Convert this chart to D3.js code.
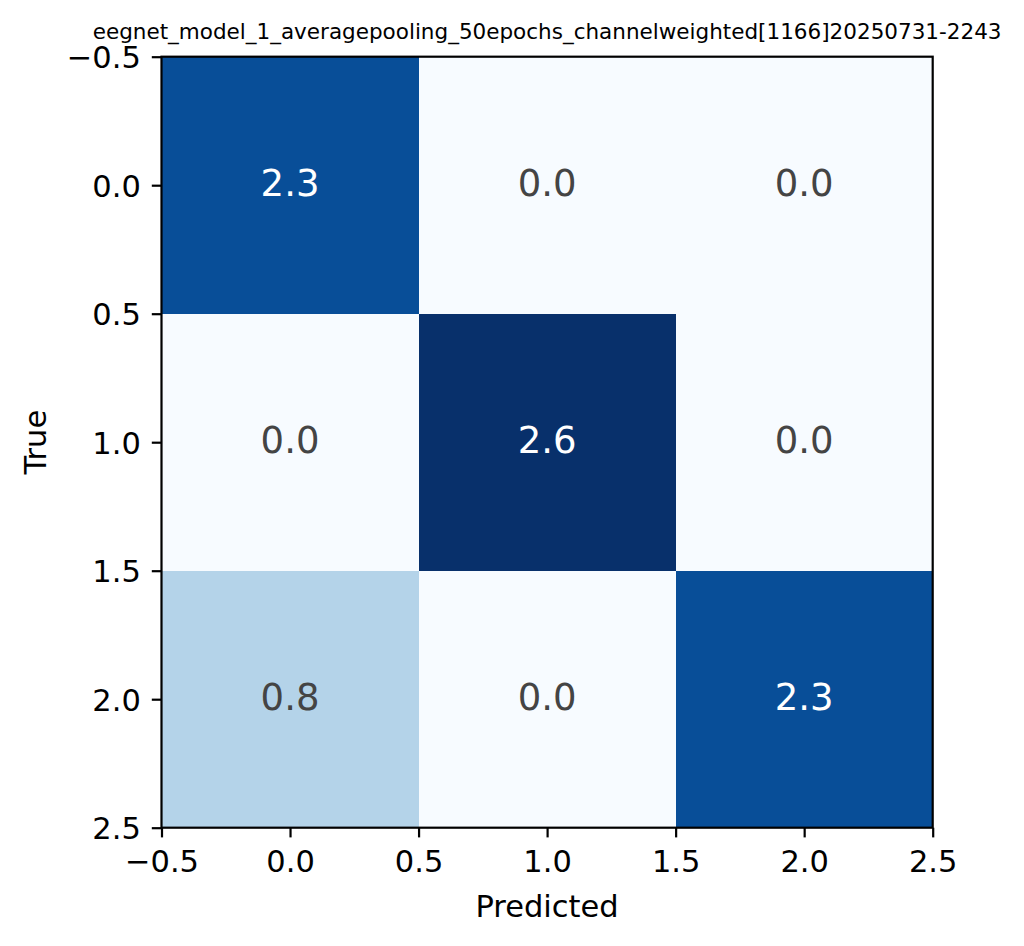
<!DOCTYPE html>
<html>
<head>
<meta charset="utf-8">
<script src="https://cdn.jsdelivr.net/npm/d3@7"></script>
<style>
  body { margin: 0; background: #fff; }
  text { font-family: "DejaVu Sans", sans-serif; }
</style>
</head>
<body>
<svg width="1024" height="946"></svg>
<script>
// Data
const title = "eegnet_model_1_averagepooling_50epochs_channelweighted[1166]20250731-2243";
const predicted = [0, 1, 2];
const trueRows = [0, 1, 2];
const values = [
  [2.3, 0.0, 0.0],
  [0.0, 2.6, 0.0],
  [0.8, 0.0, 2.3]
];
const tickValues = [-0.5, 0.0, 0.5, 1.0, 1.5, 2.0, 2.5];

// Matplotlib "Blues" colour stops
const bluesStops = ["#f7fbff", "#deebf7", "#c6dbef", "#9ecae1", "#6baed6", "#4292c6", "#2171b5", "#08519c", "#08306b"];

const svg = d3.select("svg");

// Axes box
const axLeft = 161.5, axRight = 932.7, axTop = 56.7, axBottom = 827.7;
const labelSize = 30.5;

const xScale = d3.scaleLinear().domain([-0.5, 2.5]).range([axLeft, axRight]);
const yScale = d3.scaleLinear().domain([-0.5, 2.5]).range([axTop, axBottom]);

const vmax = d3.max(values.flat());
const color = d3.scaleLinear()
  .domain(bluesStops.map((c, i) => vmax * i / (bluesStops.length - 1)))
  .range(bluesStops)
  .interpolate(d3.interpolateRgb);

// Flatten cells
const cells = [];
trueRows.forEach((r, i) => predicted.forEach((c, j) => cells.push({ row: r, col: c, v: values[i][j] })));

// Heatmap cells
svg.append("g").selectAll("rect")
  .data(cells)
  .enter()
  .append("rect")
  .attr("x", d => xScale(d.col - 0.5))
  .attr("y", d => yScale(d.row - 0.5))
  .attr("width", d => xScale(d.col + 0.5) - xScale(d.col - 0.5))
  .attr("height", d => yScale(d.row + 0.5) - yScale(d.row - 0.5))
  .attr("fill", d => color(d.v))
  .attr("shape-rendering", "crispEdges");

// Cell annotations
svg.append("g").selectAll("text")
  .data(cells)
  .enter()
  .append("text")
  .attr("x", d => xScale(d.col))
  .attr("y", d => yScale(d.row))
  .attr("dy", "0.28em")
  .attr("text-anchor", "middle")
  .style("font-size", "37px")
  .style("fill", d => d.v > vmax / 2 ? "#ffffff" : "#444444")
  .text(d => d3.format(".1f")(d.v));

// X axis
const xAxis = svg.append("g")
  .attr("transform", `translate(0,${axBottom})`)
  .call(d3.axisBottom(xScale).tickValues(tickValues).tickFormat(d3.format(".1f")).tickSize(9.7).tickPadding(13));
xAxis.select(".domain").remove();
xAxis.selectAll(".tick line").attr("stroke", "#000").attr("stroke-width", 2.2);
xAxis.selectAll(".tick text").style("font-size", labelSize + "px").attr("fill", "#000");

// Y axis
const yAxis = svg.append("g")
  .attr("transform", `translate(${axLeft},0)`)
  .call(d3.axisLeft(yScale).tickValues(tickValues).tickFormat(d3.format(".1f")).tickSize(9.7).tickPadding(11));
yAxis.select(".domain").remove();
yAxis.selectAll(".tick line").attr("stroke", "#000").attr("stroke-width", 2.2);
yAxis.selectAll(".tick text").style("font-size", labelSize + "px").attr("fill", "#000").attr("dy", "0.36em");

// Spines
svg.append("rect")
  .attr("x", axLeft).attr("y", axTop)
  .attr("width", axRight - axLeft).attr("height", axBottom - axTop)
  .attr("fill", "none").attr("stroke", "#000").attr("stroke-width", 2.2);

// Axis labels
svg.append("text")
  .text("Predicted")
  .attr("x", (axLeft + axRight) / 2)
  .attr("y", 916.5)
  .attr("text-anchor", "middle")
  .style("font-size", labelSize + "px");

svg.append("text")
  .text("True")
  .attr("transform", `translate(46,${(axTop + axBottom) / 2}) rotate(-90)`)
  .attr("text-anchor", "middle")
  .style("font-size", labelSize + "px");

// Title
svg.append("text")
  .text(title)
  .attr("x", (axLeft + axRight) / 2)
  .attr("y", 38.5)
  .attr("text-anchor", "middle")
  .style("font-size", "21.5px");
</script>
</body>
</html>
